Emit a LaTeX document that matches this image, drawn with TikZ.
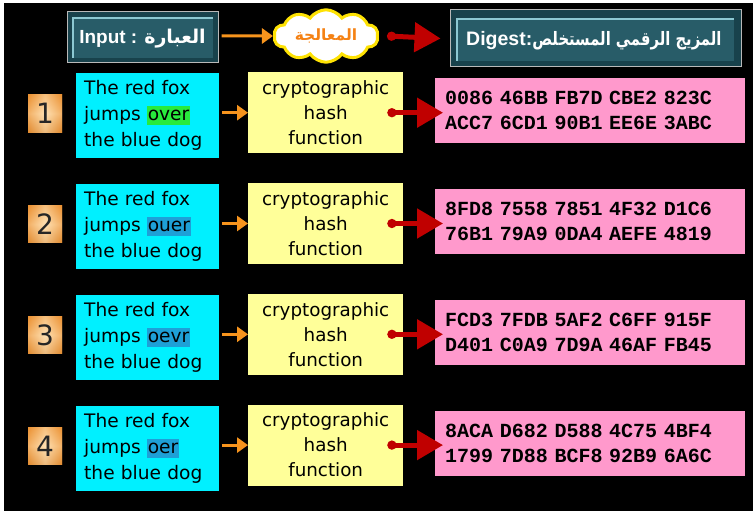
\documentclass[tikz,border=0pt]{standalone}
\usepackage{fontspec}
\setmainfont{DejaVu Sans}
\newfontfamily\arabicfont[Script=Arabic]{DejaVu Sans}
\newfontfamily\arabicnarrow[Script=Arabic,FakeStretch=0.8]{DejaVu Sans}
\newfontfamily\monofont{Liberation Mono}
\newfontfamily\hdrfont{Liberation Sans}
\TeXXeTstate=1
\usetikzlibrary{arrows.meta,shapes.symbols,calc}
\definecolor{tealdark}{RGB}{24,66,76}
\definecolor{tealmid}{RGB}{40,92,104}
\definecolor{teallight}{RGB}{140,200,210}
\definecolor{boxcyan}{RGB}{0,240,255}
\definecolor{boxyellow}{RGB}{255,255,153}
\definecolor{boxpink}{RGB}{255,153,204}
\definecolor{hlgreen}{RGB}{40,235,60}
\definecolor{hlblue}{RGB}{30,160,215}
\definecolor{arrorange}{RGB}{247,148,29}
\definecolor{arrred}{RGB}{192,0,0}
\definecolor{badgedark}{RGB}{235,145,50}
\definecolor{badgelight}{RGB}{255,225,180}
\definecolor{cloudorange}{RGB}{245,130,20}
\newcommand{\hlword}[2]{{\setlength{\fboxsep}{0.8pt}\colorbox{#1}{\vphantom{Ag}#2}}}
\tikzset{
  inputbox/.style={fill=boxcyan, minimum height=85pt, text width=127pt, inner xsep=8pt, align=left,
    font=\fontsize{18.6}{26}\selectfont, anchor=north west},
  hashbox/.style={fill=boxyellow, minimum width=155pt, minimum height=81pt, align=center,
    font=\fontsize{18.3}{25}\selectfont, anchor=north west, inner sep=0pt},
  digestbox/.style={fill=boxpink, minimum height=65pt, text width=290pt, inner xsep=10pt, align=left,
    font=\monofont\bfseries\fontsize{20}{25}\selectfont, anchor=north west},
  badge/.style={minimum width=34pt, minimum height=37pt, inner sep=0pt, font=\fontsize{28}{30}\selectfont, text=black!85},
  orarrow/.style={draw=arrorange, line width=3pt, -{Triangle[length=11pt,width=15pt]}},
  redarrow/.style={draw=arrred, line width=5pt, {Circle[length=9pt,width=9pt]}-{Triangle[length=26pt,width=29pt]}},
  hdrbox/.style={draw=gray!55, line width=1pt, fill=tealdark, inner sep=0pt, text=white,
    font=\hdrfont\bfseries\fontsize{19}{22}\selectfont},
}
\newcommand{\bevel}[4]{%
  \fill[tealmid] (#1,#2) rectangle (#3,#4);
  \draw[teallight, line width=1.5pt] (#1,#4) -- (#1,#2) -- (#3,#2);
}
\begin{document}
\begin{tikzpicture}[x=1pt,y=-1pt]
\fill[white] (0,0) rectangle (753,511);
\fill[black] (4,3) rectangle (753,511);
\useasboundingbox (0,0) rectangle (753,511);

% header
\node[hdrbox, minimum width=151pt, minimum height=51pt] (inp) at (142.5,37.5) {};
\bevel{73}{18}{213}{58}
\node[text=white, font=\hdrfont\bfseries\fontsize{19}{22}\selectfont] (inptxt) at (142.5,39)
  {Input : {\arabicfont\beginR العبارة\endR}};

\node[cloud, cloud puffs=10, cloud puff arc=110, aspect=2.2, fill=white, draw=yellow!85!orange,
  line width=3pt, minimum width=104pt, minimum height=50pt, inner sep=0pt,
  text=cloudorange, font=\arabicfont\bfseries\fontsize{15.5}{18}\selectfont] (proc) at (326,36)
  {\beginR المعالجة\endR};

\node[hdrbox, minimum width=291pt, minimum height=57pt] (dig) at (595.5,38.5) {};
\bevel{457}{19}{734}{61}
\node[text=white, font=\hdrfont\bfseries\fontsize{19.5}{22}\selectfont, anchor=west, inner sep=0pt] (digtxt) at (466,41)
  {Digest:{\arabicnarrow\fontsize{18.5}{22}\selectfont\beginR المزيج الرقمي المستخلص\endR}};

\draw[orarrow] (inp.east) ++(3,-1.5) coordinate (a0) -- (proc.west);
\draw[redarrow] ($(proc.east)+(8,0)$) -- ($(dig.west)+(-9,0)$);

% rows
\foreach \r/\word/\hc/\la/\lb in {
  0/over/hlgreen/{0086 46BB FB7D CBE2 823C}/{ACC7 6CD1 90B1 EE6E 3ABC},
  1/ouer/hlblue/{8FD8 7558 7851 4F32 D1C6}/{76B1 79A9 0DA4 AEFE 4819},
  2/oevr/hlblue/{FCD3 7FDB 5AF2 C6FF 915F}/{D401 C0A9 7D9A 46AF FB45},
  3/oer/hlblue/{8ACA D682 D588 4C75 4BF4}/{1799 7D88 BCF8 92B9 6A6C}} {
  \pgfmathsetmacro{\b}{110.8*\r}
  \pgfmathtruncatemacro{\n}{\r+1}
  \shade[top color=badgedark, bottom color=badgedark!90!black, middle color=badgelight]
    (28,{95+\b}) rectangle (62,{132+\b});
  \shade[left color=badgedark, right color=badgedark, middle color=badgelight, opacity=0.6]
    (28,{95+\b}) rectangle (62,{132+\b});
  \node[badge] (n\r) at (45,{113.5+\b}) {\n};
  \node[inputbox] (in\r) at (76,{73+\b}) {The red fox\\jumps \hlword{\hc}{\word}\\the blue dog};
  \node[hashbox] (h\r) at (248,{72+\b}) {cryptographic\\hash\\function};
  \node[digestbox] (d\r) at (435,{78+\b}) {\la\\\lb};
  \draw[orarrow] ($(in\r.east |- h\r.east)+(3,0)$) -- (h\r.west);
  \draw[redarrow] ($(h\r.east)+(-16,0)$) -- ($(d\r.west |- h\r.east)+(8,0)$);
}
\end{tikzpicture}
\end{document}
